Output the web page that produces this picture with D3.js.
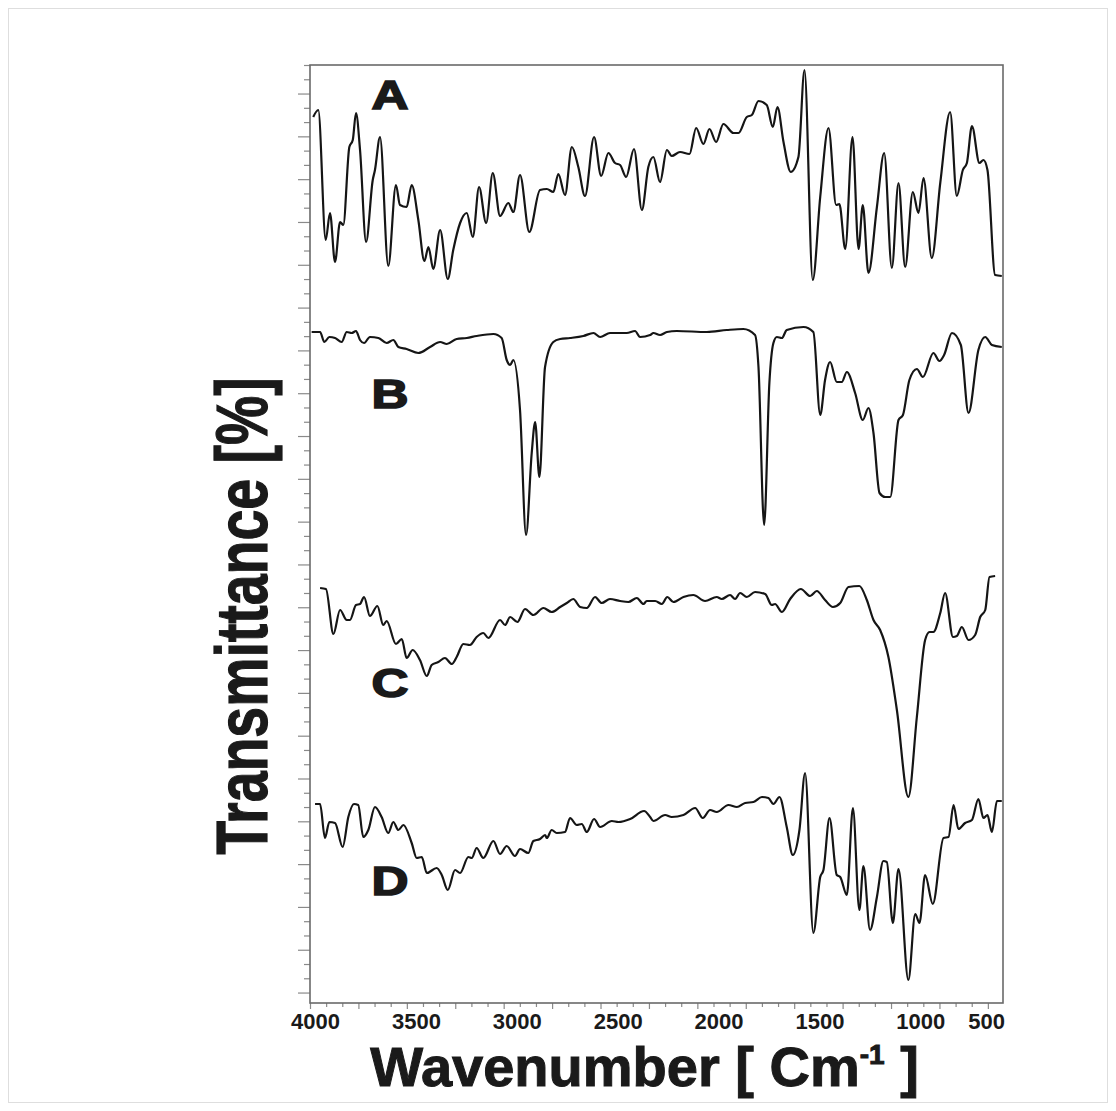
<!DOCTYPE html>
<html>
<head>
<meta charset="utf-8">
<script src="https://cdn.jsdelivr.net/npm/d3@7"></script>
<style>
  body { margin: 0; background: #fff; }
  svg { display: block; }
  .spectrum { fill: none; stroke: #151515; stroke-width: 2.2; stroke-linejoin: round; }
  .frame { fill: none; stroke: #6a6a6a; stroke-width: 1.6; }
  .ticks line { stroke: #8a8a8a; stroke-width: 1.2; }
  .ticks path { display: none; }
  text { font-family: "Liberation Sans", Arial, sans-serif; font-weight: bold; fill: #1a1a1a; }
</style>
</head>
<body>
<svg width="1116" height="1111"></svg>
<script>
// spectrum A
const waveA = [4009,3984,3947,3926,3901,3876,3860,3830,3813,3797,3777,3747,3714,3703,3678,3637,3599,3579,3546,3521,
  3488,3458,3438,3414,3380,3342,3315,3281,3248,3218,3187,3152,3119,3083,3042,3017,2984,2938,2885,2851,
  2819,2794,2761,2727,2695,2662,2617,2582,2546,2513,2488,2458,2419,2380,2348,
  2323,2290,2256,2232,2191,2144,2111,2075,2045,2012,1976,1926,1901,1860,1835,1802,1761,1731,1708,1678,
  1642,1604,1574,1533,1496,1455,1417,1401,1372,1336,1306,1285,1257,1215,1179,1141,1108,1075,1037,1009,
  984,943,901,852,819,789,769,744,707,687,667,629,596];
const transA = [88.6,89.3,76.3,79.0,74.1,78.1,77.8,85.6,86.3,89.0,85.3,76.1,82.3,83.3,86.6,73.7,81.8,79.8,79.6,81.8,
  78.3,74.2,75.6,73.4,77.3,72.4,75.3,78.0,79.0,76.6,81.6,78.0,83.0,78.7,80.0,79.1,82.8,77.1,81.3,81.4,
  81.1,82.9,80.8,85.6,83.6,80.7,86.6,82.7,85.0,84.0,83.8,82.6,85.4,79.3,83.6,
  84.6,82.1,85.3,84.7,85.1,84.9,87.5,85.9,87.4,86.1,87.9,87.0,87.0,88.6,88.8,90.2,89.8,87.6,89.6,86.1,
  83.1,84.6,93.3,72.3,80.6,87.5,79.8,79.9,75.4,86.6,75.4,79.8,73.0,79.6,85.0,73.5,82.0,73.6,81.1,79.0,
  82.5,74.5,82.0,89.1,80.7,83.3,84.0,87.7,84.0,84.3,83.3,72.8,72.7];

// spectrum B
const waveB = [4017,3975,3954,3929,3901,3868,3843,3818,3797,3777,3757,3728,3686,3645,3612,3587,3546,3488,3430,3380,
  3347,3298,3248,3199,3116,3075,3050,3033,3017,2984,2954,2926,2909,2888,2860,2819,2785,2736,2670,2620,
  2587,2538,2455,2414,2389,2339,
  2323,2290,2256,2207,2058,1959,1877,1819,1802,1774,1748,1728,1711,1686,1662,1579,1530,1496,1472,1447,
  1414,1389,1364,1323,1285,1257,1232,1202,1174,1149,1108,1086,1054,1017,987,935,905,882,843,799,
  761,712,678,645,596];
const transB = [67.1,67.1,66.1,66.6,66.5,66.1,67.1,67.0,67.2,66.3,66.0,66.6,66.5,66.0,66.3,65.6,65.4,65.0,65.6,66.1,
  65.9,66.4,66.5,66.7,66.9,66.5,64.3,63.8,64.3,59.3,46.8,55.0,58.1,52.6,63.6,66.1,66.4,66.5,66.7,67.0,
  66.6,67.0,67.0,67.2,66.6,66.8,
  67.0,66.8,67.1,67.2,67.1,67.3,67.4,66.8,63.6,47.8,62.0,66.0,66.6,66.5,67.3,67.6,67.1,58.8,62.3,64.1,
  62.1,62.1,63.1,61.0,58.3,59.5,57.0,51.0,50.6,50.6,58.3,58.8,62.3,63.4,62.6,65.0,64.2,64.8,67.0,65.8,
  59.0,65.3,66.6,65.8,65.6];

// spectrum C
const waveC = [3975,3946,3909,3876,3843,3827,3797,3777,3757,3728,3691,3662,3645,3599,3570,3546,3516,3480,3446,3422,
  3389,3356,3322,3298,3265,3232,3199,3166,3141,3083,3058,3033,2997,2959,2918,2868,2827,2785,2752,2720,
  2686,2653,2612,2579,2538,2488,2447,2405,2372,
  2356,2314,2281,2254,2224,2174,2125,2067,2009,1984,1943,1918,1893,1860,1819,1769,1736,1720,1686,1645,
  1592,1546,1513,1472,1433,1397,1356,1302,1265,1232,1199,1158,1116,1059,1017,976,954,935,901,877,
  838,819,794,761,728,703,678,657,629];
const transC = [41.5,41.4,36.9,39.3,38.3,38.3,39.8,39.9,40.6,38.7,39.7,37.8,38.2,35.9,36.4,34.5,35.3,34.3,32.7,33.8,
  34.1,34.5,33.9,34.6,35.9,35.8,36.6,37.0,36.5,38.3,37.8,38.6,38.1,39.4,38.8,39.5,39.1,39.6,40.0,40.4,
  39.6,39.5,40.6,40.0,40.4,40.2,40.1,40.5,39.9,
  40.2,40.2,39.9,40.6,40.1,40.6,40.8,40.2,40.6,40.4,40.8,40.4,41.0,40.6,41.1,40.9,39.8,39.9,39.1,40.4,
  41.4,40.7,41.2,40.3,39.6,40.0,41.6,41.7,40.3,38.3,37.3,34.6,29.3,20.6,28.6,36.3,37.1,37.1,39.0,41.0,
  36.6,36.7,37.6,36.3,36.8,38.6,39.3,42.6,42.7];

// spectrum D
const waveD = [4000,3975,3951,3929,3901,3863,3835,3807,3786,3761,3736,3703,3670,3637,3612,3587,3562,3521,3496,3471,
  3446,3397,3372,3342,3306,3281,3240,3223,3199,3166,3116,3083,3050,3009,2984,2943,2918,2885,2860,2851,
  2827,2802,2761,2736,2703,2678,2653,2617,2587,2529,2496,2438,2369,2339,
  2323,2265,2232,2174,2116,2078,2042,2009,1951,1909,1868,1827,1785,1753,1728,1698,1662,1632,1599,1571,
  1530,1496,1480,1450,1414,1397,1364,1334,1302,1282,1249,1215,1183,1166,1136,1108,1059,1025,1004,976,
  938,885,860,835,811,778,744,712,687,667,645,620,596];
const transD = [19.9,19.9,16.5,18.1,18.0,15.6,18.6,19.9,19.8,16.6,17.3,19.6,18.6,17.0,18.1,17.3,17.8,16.0,14.5,14.6,
  13.0,13.5,12.8,11.3,13.3,13.0,14.6,14.5,15.5,14.5,16.2,14.9,15.7,14.7,15.4,15.0,16.2,16.4,16.8,16.5,
  17.3,17.0,17.1,18.5,17.8,17.9,17.1,18.4,17.6,18.2,18.1,18.4,19.2,18.6,
  18.2,18.8,18.6,18.8,19.5,18.5,19.3,19.1,19.8,19.6,20.0,20.1,20.6,20.5,19.9,20.6,17.6,14.8,17.3,23.0,
  7.0,12.6,13.3,18.5,12.8,12.6,10.8,19.5,9.3,13.7,7.3,10.6,14.2,14.1,8.0,13.4,2.3,8.9,8.0,12.8,
  9.9,16.5,16.6,19.8,17.4,18.0,18.3,20.4,18.5,18.8,17.1,20.2,20.2];

const seriesNames = ["A", "B", "C", "D"];
const labelWave = 3720;
const labelTrans = [89.4, 59.5, 30.6, 10.8];
const xTickLabels = [4000, 3500, 3000, 2500, 2000, 1500, 1000, 500];

const margin = { top: 65, right: 113, bottom: 108, left: 310 };
const width = 1116 - margin.left - margin.right;
const height = 1111 - margin.top - margin.bottom;

const svg = d3.select("svg");

// faint border round the whole picture
svg.append("rect")
  .attr("x", 8.5).attr("y", 8.5)
  .attr("width", 1099).attr("height", 1094)
  .attr("fill", "none").attr("stroke", "#dedede");

const g = svg.append("g")
  .attr("transform", "translate(" + margin.left + "," + margin.top + ")");

const x = d3.scaleLinear().domain([4025, 590]).range([0, width]);
const y = d3.scaleLinear().domain([0, 93.8]).range([height, 0]);

// left axis: unlabeled ticks, every third one longer
const yTicks = d3.range(0, 66).map(k => 93.8 - k * 1.427);
g.append("g").attr("class", "ticks")
  .call(d3.axisLeft(y).tickValues(yTicks.filter((d, k) => k % 3 !== 2)).tickSize(6).tickFormat(""));
g.append("g").attr("class", "ticks")
  .call(d3.axisLeft(y).tickValues(yTicks.filter((d, k) => k % 3 === 2)).tickSize(12).tickFormat(""));

// bottom axis: minor ticks
const xTicks = d3.range(0, 43).map(k => 4025 - k * 80);
g.append("g").attr("class", "ticks")
  .attr("transform", "translate(0," + height + ")")
  .call(d3.axisBottom(x).tickValues(xTicks.filter((d, k) => k % 3 !== 0)).tickSize(4).tickFormat(""));
g.append("g").attr("class", "ticks")
  .attr("transform", "translate(0," + height + ")")
  .call(d3.axisBottom(x).tickValues(xTicks.filter((d, k) => k % 3 === 0)).tickSize(6).tickFormat(""));

// bottom axis labels
const xLab = g.append("g").attr("class", "ticks")
  .attr("transform", "translate(0," + height + ")")
  .call(d3.axisBottom(x).tickValues(xTickLabels).tickSize(0).tickPadding(10).tickFormat(d3.format("d")));
xLab.selectAll("text")
  .style("font-size", "22px").style("font-weight", "bold")
  .style("fill", "#1a1a1a").style("font-family", "'Liberation Sans', Arial, sans-serif");
// 500 sits past the end of the axis, so it is pulled back to the right edge
xLab.selectAll(".tick").filter(d => d === 500)
  .attr("transform", "translate(" + (x.range()[1] + 2) + ",0)")
  .select("text").attr("text-anchor", "end");

// frame
g.append("rect").attr("class", "frame")
  .attr("width", width).attr("height", height);

// spectra
const line = d3.line()
  .x(d => x(d[0]))
  .y(d => y(d[1]))
  .curve(d3.curveMonotoneX);

const spectra = [
  d3.zip(waveA, transA),
  d3.zip(waveB, transB),
  d3.zip(waveC, transC),
  d3.zip(waveD, transD)
];

g.selectAll(".spectrum")
  .data(spectra)
  .enter()
  .append("path")
  .attr("class", "spectrum")
  .attr("d", line);

// series letters
g.selectAll(".series-label")
  .data(seriesNames)
  .enter()
  .append("text")
  .attr("class", "series-label")
  .attr("transform", (d, i) => "translate(" + x(labelWave) + "," + y(labelTrans[i]) + ") scale(1.25,1)")
  .style("font-size", "41px")
  .style("stroke", "#1a1a1a").style("stroke-width", 1.6)
  .text(d => d);

// axis titles
const xTitle = g.append("text")
  .attr("x", width / 2 - 12)
  .attr("y", height + 83)
  .attr("text-anchor", "middle")
  .style("font-size", "56px")
  .style("stroke", "#1a1a1a").style("stroke-width", 1);
xTitle.append("tspan").text("Wavenumber [ Cm");
xTitle.append("tspan").attr("dy", -22).style("font-size", "28px").text("-1");
xTitle.append("tspan").attr("dy", 22).text(" ]");

// the y title is a tall, condensed face in the original
g.append("text")
  .attr("transform", "translate(-43," + (height / 2 + 82) + ") rotate(-90) scale(0.77,1)")
  .attr("text-anchor", "middle")
  .style("font-size", "72px")
  .style("stroke", "#1a1a1a").style("stroke-width", 1.2)
  .text("Transmittance [%]");
</script>
</body>
</html>
